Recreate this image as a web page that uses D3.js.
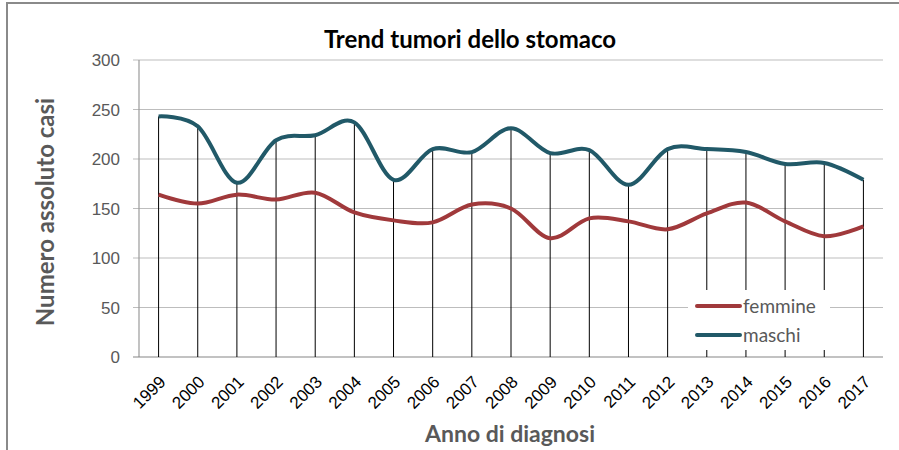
<!DOCTYPE html>
<html>
<head>
<meta charset="utf-8">
<script src="https://cdn.jsdelivr.net/npm/d3@7"></script>
<style>
    body { margin: 0; background: #fff; }
    svg { display: block; font-family: Lato, "Open Sans", sans-serif; }
    .tick line { display: none; }
    .domain { display: none; }
</style>
</head>
<body>
<svg id="chart" width="899" height="450"></svg>
<script>
// Data
let years = ["1999", "2000", "2001", "2002", "2003", "2004", "2005", "2006", "2007", "2008",
             "2009", "2010", "2011", "2012", "2013", "2014", "2015", "2016", "2017"];
let femmine = [164, 155, 164, 159, 166, 146, 138, 136, 154, 150, 120, 140, 137, 129, 145, 156, 137, 122, 132];
let maschi = [243, 233, 176, 219, 224, 237, 179, 210, 207, 231, 206, 209, 174, 210, 210, 207, 195, 196, 179];
let yTicks = [0, 50, 100, 150, 200, 250, 300];

let series = [
    {name: "femmine", values: femmine, color: "#A0393B"},
    {name: "maschi", values: maschi, color: "#215968"}
];

let svg = d3.select("#chart");
let plotLeft = 139, plotRight = 883, plotTop = 60, plotBottom = 357;

// Outer frame (runs off the right and bottom edges)
svg.append("rect")
    .attr("x", 7).attr("y", 3)
    .attr("width", 920).attr("height", 480)
    .attr("fill", "none")
    .attr("stroke", "#8a8a8a")
    .attr("stroke-width", 2);

let x = d3.scaleBand().domain(years).range([plotLeft, plotRight]);
let y = d3.scaleLinear().domain([0, 300]).range([plotBottom, plotTop]);
let cx = d => x(d) + x.bandwidth() / 2;

// Gridlines
svg.append("g")
    .selectAll("line")
    .data(yTicks.filter(t => t > 0))
    .join("line")
    .attr("x1", plotLeft - 6).attr("x2", plotRight)
    .attr("y1", d => y(d)).attr("y2", d => y(d))
    .attr("stroke", "#bdbdbd")
    .attr("stroke-width", 1.2);

// Axis lines
svg.append("line")
    .attr("x1", plotLeft).attr("x2", plotLeft)
    .attr("y1", plotTop).attr("y2", plotBottom)
    .attr("stroke", "#9a9a9a").attr("stroke-width", 1.2);
svg.append("line")
    .attr("x1", plotLeft - 6).attr("x2", plotRight)
    .attr("y1", y(0)).attr("y2", y(0))
    .attr("stroke", "#868686").attr("stroke-width", 1.2);

// Y axis labels
let yAxis = svg.append("g")
    .attr("transform", "translate(" + (plotLeft - 2) + ",0)")
    .call(d3.axisLeft(y).tickValues(yTicks).tickSize(0).tickPadding(17));
yAxis.selectAll("text")
    .attr("fill", "#595959")
    .style("font-size", "17px")
    .attr("dy", "0.35em");

// X axis labels, rotated
let xAxis = svg.append("g")
    .attr("transform", "translate(0," + plotBottom + ")")
    .call(d3.axisBottom(x).tickSize(0).tickPadding(0));
xAxis.selectAll("text")
    .attr("fill", "#000")
    .style("font-size", "17px")
    .style("text-anchor", "end")
    .attr("dy", null).attr("y", 0)
    .attr("transform", "translate(8,26) rotate(-45)");

// Drop lines from the top series down to the axis
svg.append("g")
    .selectAll("line")
    .data(years)
    .join("line")
    .attr("x1", d => cx(d)).attr("x2", d => cx(d))
    .attr("y1", (d, i) => y(Math.max(maschi[i], femmine[i])))
    .attr("y2", y(0))
    .attr("stroke", "#000")
    .attr("stroke-width", 1);

// Smoothed lines
let line = d3.line()
    .x((d, i) => cx(years[i]))
    .y(d => y(d))
    .curve(d3.curveCardinal.tension(0));

svg.append("g")
    .selectAll("path")
    .data(series)
    .join("path")
    .attr("d", d => line(d.values))
    .attr("fill", "none")
    .attr("stroke", d => d.color)
    .attr("stroke-width", 4)
    .attr("stroke-linejoin", "round");

// Legend
let legend = svg.append("g");
legend.append("rect")
    .attr("x", 688).attr("y", 290)
    .attr("width", 142).attr("height", 60)
    .attr("fill", "#fff");
let items = legend.selectAll("g.item")
    .data(series)
    .join("g")
    .attr("class", "item")
    .attr("transform", (d, i) => "translate(697," + (306 + i * 29) + ")");
items.append("line")
    .attr("x1", 0).attr("x2", 43)
    .attr("stroke", d => d.color)
    .attr("stroke-width", 4)
    .attr("stroke-linecap", "round");
items.append("text")
    .attr("x", 46).attr("dy", "0.35em")
    .attr("fill", "#595959")
    .style("font-size", "19px")
    .text(d => d.name);

// Titles
svg.append("text")
    .attr("x", 470).attr("y", 48)
    .attr("text-anchor", "middle")
    .style("font-size", "24px").style("font-weight", "bold")
    .attr("fill", "#000")
    .text("Trend tumori dello stomaco");
svg.append("text")
    .attr("x", 510).attr("y", 442)
    .attr("text-anchor", "middle")
    .style("font-size", "23px").style("font-weight", "bold")
    .attr("fill", "#595959")
    .text("Anno di diagnosi");
svg.append("text")
    .attr("transform", "translate(54,212) rotate(-90)")
    .attr("text-anchor", "middle")
    .style("font-size", "24px").style("font-weight", "bold")
    .attr("fill", "#595959")
    .text("Numero assoluto casi");
</script>
</body>
</html>
